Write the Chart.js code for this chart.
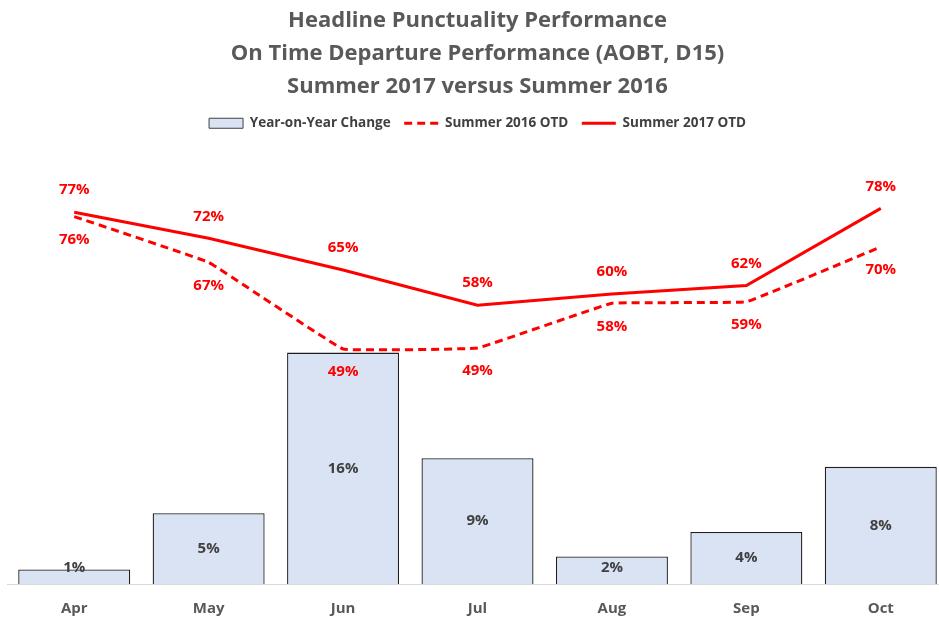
<!DOCTYPE html>
<html>
<head>
<meta charset="utf-8">
<script src="https://cdn.jsdelivr.net/npm/chart.js@4/dist/chart.umd.min.js"></script>
<style>
  html, body { margin: 0; padding: 0; background: #fff; overflow: hidden; width: 939px; height: 619px; }
  #wrap { width: 952px; height: 619px; position: relative; }
</style>
</head>
<body>
<div id="wrap"><canvas id="c" width="952" height="619"></canvas></div>
<script>
const months = ['Apr', 'May', 'Jun', 'Jul', 'Aug', 'Sep', 'Oct'];
const yoyChange = [1.0, 4.9, 16.0, 8.7, 1.9, 3.6, 8.1];
const otd2016 = [76.3, 66.8, 48.8, 49.0, 58.3, 58.6, 70.0];
const otd2017 = [77.2, 71.8, 65.2, 57.9, 60.2, 62.0, 78.0];
const titleLines = ['Headline Punctuality Performance', 'On Time Departure Performance (AOBT, D15)', 'Summer 2017 versus Summer 2016'];

const FONT = '"Open Sans", sans-serif';
const RED = '#FF0000';

const labelPlugin = {
  id: 'valueLabels',
  afterDatasetsDraw(chart) {
    const ctx = chart.ctx;
    ctx.save();
    ctx.textAlign = 'center';
    ctx.textBaseline = 'middle';
    ctx.font = 'bold 15px ' + FONT;
    chart.data.datasets.forEach((ds, i) => {
      const meta = chart.getDatasetMeta(i);
      meta.data.forEach((el, j) => {
        const txt = Math.round(ds.data[j]) + '%';
        if (ds.type === 'bar') {
          ctx.fillStyle = '#404040';
          const mid = (el.y + el.base) / 2;
          ctx.fillText(txt, el.x, Math.min(mid, el.base - 16));
        } else {
          ctx.fillStyle = RED;
          const off = ds.labelPos === 'above' ? -22 : 23;
          ctx.fillText(txt, el.x, el.y + off);
        }
      });
    });
    ctx.restore();
  }
};

new Chart(document.getElementById('c'), {
  data: {
    labels: months,
    datasets: [
      {
        type: 'bar', label: 'Year-on-Year Change', data: yoyChange, yAxisID: 'yBar',
        backgroundColor: '#DAE3F3', borderColor: '#1f1f1f', borderWidth: 1.3,
        categoryPercentage: 0.833, barPercentage: 1, order: 3
      },
      {
        type: 'line', label: 'Summer 2016 OTD', data: otd2016, yAxisID: 'yLine',
        borderColor: RED, borderWidth: 3, borderDash: [8, 5], pointRadius: 0,
        tension: 0.05, labelPos: 'below', order: 2
      },
      {
        type: 'line', label: 'Summer 2017 OTD', data: otd2017, yAxisID: 'yLine',
        borderColor: RED, borderWidth: 3, pointRadius: 0,
        tension: 0, labelPos: 'above', order: 1
      }
    ]
  },
  options: {
    responsive: false,
    animation: false,
    layout: { padding: { left: 7, right: 4, top: 0, bottom: -15 } },
    plugins: {
      tooltip: { enabled: false },
      title: {
        display: true, text: titleLines, color: '#595959',
        font: { family: FONT, size: 22, weight: 'bold', lineHeight: 1.5 },
        padding: { top: 4, bottom: 0 }
      },
      legend: {
        display: true, position: 'top',
        labels: {
          usePointStyle: true, pointStyleWidth: 34, boxHeight: 10, padding: 13.5,
          color: '#404040', font: { family: FONT, size: 13.5, weight: 'bold' },
          generateLabels(chart) {
            return chart.data.datasets.map((ds, i) => ({
              text: ds.label, datasetIndex: i, hidden: false,
              fillStyle: ds.type === 'bar' ? ds.backgroundColor : 'rgba(0,0,0,0)',
              strokeStyle: ds.type === 'bar' ? '#404040' : RED,
              lineWidth: ds.type === 'bar' ? 1 : 3,
              lineDash: ds.borderDash || [],
              pointStyle: ds.type === 'bar' ? 'rect' : 'line',
              fontColor: '#404040'
            }));
          }
        }
      }
    },
    scales: {
      x: {
        grid: { display: false, drawTicks: false },
        border: { display: true, color: '#D9D9D9', width: 1 },
        ticks: { color: '#595959', padding: 16, font: { family: FONT, size: 15, weight: 'bold' } }
      },
      yBar: { display: false, position: 'left', min: 0, max: 30.7 },
      yLine: { display: false, position: 'right', min: 0, max: 92.2 }
    }
  },
  plugins: [labelPlugin]
});
</script>
</body>
</html>
